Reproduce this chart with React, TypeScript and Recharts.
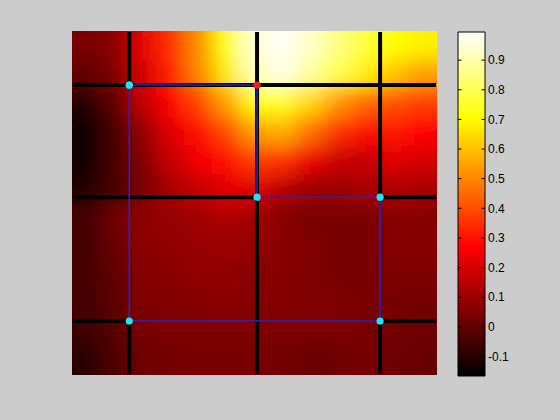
import { ReferenceArea, ReferenceLine, Scatter, ScatterChart, XAxis, YAxis } from 'recharts';

// heat values, rows top -> bottom, 13 columns left -> right
const colCenters = [0.0385, 0.1154, 0.1923, 0.2692, 0.3462, 0.4231, 0.5, 0.5769, 0.6538, 0.7308, 0.8077, 0.8846, 0.9615];
const rowCenters = [0.9583, 0.875, 0.7917, 0.7083, 0.625, 0.5417, 0.4583, 0.375, 0.2917, 0.2083, 0.125, 0.0417];
const heatRows = [
  [0.04, 0.07, 0.22, 0.35, 0.51, 0.72, 0.94, 0.99, 0.93, 0.85, 0.77, 0.71, 0.68],
  [0.0, 0.05, 0.2, 0.32, 0.49, 0.67, 0.9, 0.96, 0.88, 0.79, 0.68, 0.6, 0.54],
  [-0.11, -0.01, 0.16, 0.27, 0.38, 0.54, 0.71, 0.74, 0.64, 0.52, 0.44, 0.4, 0.37],
  [-0.14, -0.04, 0.08, 0.22, 0.29, 0.39, 0.54, 0.57, 0.46, 0.35, 0.29, 0.3, 0.28],
  [-0.14, -0.04, 0.05, 0.17, 0.25, 0.29, 0.37, 0.35, 0.24, 0.18, 0.17, 0.22, 0.2],
  [-0.11, -0.04, 0.03, 0.12, 0.17, 0.22, 0.22, 0.15, 0.1, 0.1, 0.12, 0.13, 0.12],
  [-0.05, 0.02, 0.08, 0.09, 0.11, 0.13, 0.11, 0.06, 0.04, 0.04, 0.04, 0.07, 0.06],
  [-0.05, 0.01, 0.07, 0.08, 0.09, 0.1, 0.09, 0.07, 0.05, 0.04, 0.04, 0.06, 0.06],
  [-0.05, 0.0, 0.06, 0.07, 0.08, 0.08, 0.07, 0.06, 0.05, 0.04, 0.04, 0.05, 0.05],
  [-0.05, -0.01, 0.05, 0.05, 0.06, 0.07, 0.06, 0.06, 0.05, 0.05, 0.04, 0.04, 0.03],
  [-0.06, -0.02, 0.04, 0.05, 0.05, 0.05, 0.05, 0.05, 0.05, 0.05, 0.04, 0.03, 0.02],
  [-0.1, -0.03, 0.02, 0.03, 0.04, 0.04, 0.04, 0.03, 0.01, 0.02, 0.04, 0.02, 0.01],
];

// mesh lines and the blue path
const gridX = [0.155, 0.507, 0.846];
const gridY = [0.155, 0.517, 0.845];
const pathX = [0.155, 0.507, 0.507, 0.846, 0.846, 0.155, 0.155];
const pathY = [0.845, 0.845, 0.517, 0.517, 0.155, 0.155, 0.845];
const pathActive = [false, true, false, false, false, false, false];

// colorbar
const cbMin = -0.166;
const cbMax = 0.995;
const cbTicks = [-0.1, 0, 0.1, 0.2, 0.3, 0.4, 0.5, 0.6, 0.7, 0.8, 0.9];

const W = 560;
const H = 420;
const margin = { top: 32, left: 73, right: 124, bottom: 46 };
const cellW = (W - margin.left - margin.right) / colCenters.length;
const cellH = (H - margin.top - margin.bottom) / rowCenters.length;

const clamp = (v: number) => Math.max(0, Math.min(1, v));
function hot(v: number): string {
  const f = (v - cbMin) / (cbMax - cbMin);
  const r = Math.round(255 * clamp(f / 0.375));
  const g = Math.round(255 * clamp((f - 0.375) / 0.375));
  const b = Math.round(255 * clamp((f - 0.75) / 0.25));
  return `rgb(${r},${g},${b})`;
}

const cells = heatRows.flatMap((row, j) =>
  row.map((v, i) => ({ x: colCenters[i], y: rowCenters[j], v }))
);
const pathData = pathX.map((x, i) => ({ x, y: pathY[i], active: pathActive[i] }));
const cbData = cbTicks.map((t) => ({ x: 0.5, y: t }));

// black mesh segments (the ones not hidden under the blue path)
const blackSegs: [number, number, number, number][] = [
  [0, gridY[2], 1, gridY[2]],
  [gridX[1], 0, gridX[1], 1],
  [0, gridY[1], gridX[1], gridY[1]],
  [gridX[2], gridY[1], 1, gridY[1]],
  [0, gridY[0], gridX[0], gridY[0]],
  [gridX[2], gridY[0], 1, gridY[0]],
  [gridX[0], gridY[2], gridX[0], 1],
  [gridX[0], 0, gridX[0], gridY[0]],
  [gridX[2], gridY[1], gridX[2], 1],
  [gridX[2], 0, gridX[2], gridY[0]],
];

const HeatCell = (props: any) => {
  const { cx, cy, payload } = props;
  return (
    <rect
      x={cx - cellW / 2 - 0.5}
      y={cy - cellH / 2 - 0.5}
      width={cellW + 1}
      height={cellH + 1}
      fill={hot(payload.v)}
    />
  );
};

const PathMarker = (props: any) => {
  const { cx, cy, payload } = props;
  return <circle cx={cx} cy={cy} r={3.6} fill={payload.active ? '#ff1a1a' : '#19e6ff'} />;
};

const NoMark = () => <g />;

export default function App() {
  return (
    <div style={{ position: 'relative', width: W, height: H, background: '#cccccc' }}>
      <style>{`body{margin:0;background:#cccccc}.heat-layer{filter:url(#heatBlur)}`}</style>
      <div style={{ position: 'absolute', left: 0, top: 0 }}>
        <ScatterChart width={W} height={H} margin={margin}>
          <defs>
            <filter id="heatBlur" x="0" y="0" width="1" height="1">
              <feGaussianBlur stdDeviation="10" edgeMode="duplicate" />
              <feComponentTransfer>
                <feFuncA type="table" tableValues="1 1" />
              </feComponentTransfer>
            </filter>
          </defs>
          <XAxis type="number" dataKey="x" domain={[0, 1]} hide />
          <YAxis type="number" dataKey="y" domain={[0, 1]} hide />
          <Scatter
            className="heat-layer"
            data={cells}
            shape={HeatCell}
            isAnimationActive={false}
            zIndex={0}
          />
          {blackSegs.map((s, i) => (
            <ReferenceLine
              key={i}
              segment={[{ x: s[0], y: s[1] }, { x: s[2], y: s[3] }]}
              stroke="#000000"
              strokeWidth={4}
              zIndex={700}
            />
          ))}
          <Scatter
            data={pathData}
            line={{ stroke: '#2424c8', strokeWidth: 1.6 }}
            shape={PathMarker}
            isAnimationActive={false}
            zIndex={800}
          />
        </ScatterChart>
      </div>
      <div style={{ position: 'absolute', left: 440, top: 0 }}>
        <ScatterChart width={120} height={H} margin={{ top: 32, left: 18, right: 35, bottom: 44 }}>
          <defs>
            <linearGradient id="hotGrad" x1="0" y1="1" x2="0" y2="0">
              <stop offset="0" stopColor="#000000" />
              <stop offset="0.375" stopColor="#ff0000" />
              <stop offset="0.75" stopColor="#ffff00" />
              <stop offset="1" stopColor="#ffffff" />
            </linearGradient>
          </defs>
          <XAxis type="number" dataKey="x" domain={[0, 1]} allowDataOverflow hide />
          <YAxis
            type="number"
            dataKey="y"
            orientation="right"
            domain={[cbMin, cbMax]}
            allowDataOverflow
            ticks={cbTicks}
            width={40}
            tickLine={false}
            axisLine={false}
            tickSize={0}
            tickMargin={3}
            interval={0}
            tick={{ fill: '#000000', fontSize: 12, fontFamily: 'Liberation Sans, Arial, sans-serif' }}
          />
          <ReferenceArea x1={0} x2={1} y1={cbMin} y2={cbMax} fill="url(#hotGrad)" fillOpacity={1} stroke="#000000" strokeWidth={1} ifOverflow="visible" />
          {cbTicks.map((t) => (
            <ReferenceLine key={`l${t}`} segment={[{ x: 0, y: t }, { x: 0.13, y: t }]} stroke="#000000" strokeWidth={1} />
          ))}
          {cbTicks.map((t) => (
            <ReferenceLine key={`r${t}`} segment={[{ x: 0.87, y: t }, { x: 1, y: t }]} stroke="#000000" strokeWidth={1} />
          ))}
          <Scatter data={cbData} shape={NoMark} isAnimationActive={false} />
        </ScatterChart>
      </div>
    </div>
  );
}
